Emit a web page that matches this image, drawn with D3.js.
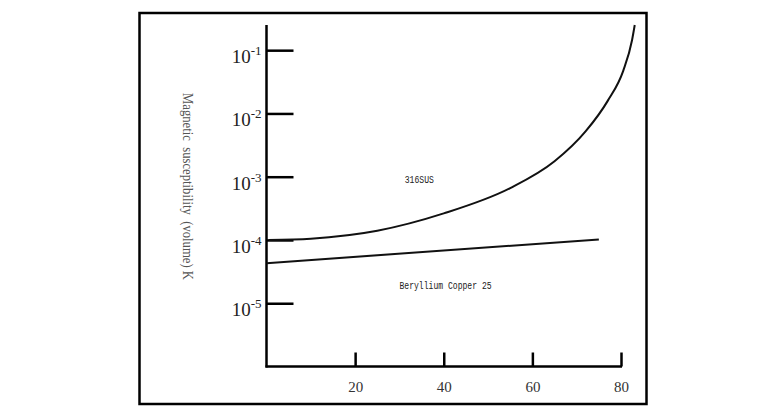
<!DOCTYPE html>
<html><head><meta charset="utf-8">
<script src="https://cdn.jsdelivr.net/npm/d3@7"></script>
<style>body{margin:0;background:#fff}</style>
</head><body>
<svg id="c" width="767" height="416"></svg>
<script>
const sus316X = [0.5, 10, 25, 40, 55, 65, 72, 77, 80.5, 82.5, 83.1];
const sus316Y = [1.0e-4, 1.05e-4, 1.40e-4, 2.63e-4, 6.6e-4, 1.75e-3, 5.19e-3, 1.58e-2, 4.72e-2, 0.145, 0.25];
const beCuX = [0, 75];
const beCuY = [4.3e-5, 1.02e-4];
const xTicks = [20, 40, 60, 80];
const yTicks = [1e-1, 1e-2, 1e-3, 1e-4, 1e-5];
const yTickExp = ["-1", "-2", "-3", "-4", "-5"];
const labels = [{t: "316SUS", x: 31.2, y: 8e-4}, {t: "Beryllium Copper 25", x: 30, y: 1.66e-5}];
const yTitle = "Magnetic  susceptibility  (volume) K";

const svg = d3.select("#c");
svg.append("rect").attr("x", 139.5).attr("y", 13).attr("width", 507).attr("height", 391)
  .attr("fill", "none").attr("stroke", "#000").attr("stroke-width", 2.5);

const x = d3.scaleLinear().domain([0, 80]).range([266.5, 621]);
const y = d3.scaleLog().domain([1e-6, 0.25]).range([366.5, 25]);

// axis lines
svg.append("line").attr("x1", x(0)).attr("x2", x(0)).attr("y1", y(0.25)).attr("y2", y(1e-6) + 1)
  .attr("stroke", "#000").attr("stroke-width", 2.5);
svg.append("line").attr("x1", x(0) - 1).attr("x2", x(80) + 1).attr("y1", y(1e-6)).attr("y2", y(1e-6))
  .attr("stroke", "#000").attr("stroke-width", 2.5);

// x axis
const gx = svg.append("g").attr("transform", `translate(0,${y(1e-6)})`)
  .call(d3.axisBottom(x).tickValues(xTicks).tickSizeInner(-14).tickSizeOuter(0).tickPadding(15).tickFormat(d3.format("d")));
gx.select(".domain").remove();
gx.selectAll("line").attr("stroke", "#000").attr("stroke-width", 2.5);
gx.selectAll("text").attr("font-family", "Liberation Serif").attr("font-size", 15).attr("fill", "#333");

// y axis
const gy = svg.append("g").attr("transform", `translate(${x(0)},0)`)
  .call(d3.axisRight(y).tickValues(yTicks).tickSize(27).tickFormat(""));
gy.select(".domain").remove();
gy.selectAll("line").attr("stroke", "#000").attr("stroke-width", 2.5);
yTicks.forEach((v, i) => {
  const t = svg.append("text").attr("x", x(0) - 5).attr("y", y(v) + 13)
    .attr("font-family", "Liberation Serif").attr("font-size", 19).attr("fill", "#222")
    .attr("text-anchor", "end");
  t.append("tspan").text("10");
  t.append("tspan").attr("font-size", 13).attr("dy", -8).text(yTickExp[i]);
});

// y title
svg.append("text").attr("transform", `translate(183,93) rotate(90)`)
  .attr("font-family", "Liberation Serif").attr("font-size", 14).attr("fill", "#555")
  .attr("textLength", 187).attr("lengthAdjust", "spacingAndGlyphs")
  .attr("xml:space", "preserve").style("white-space", "pre")
  .text(yTitle);

// curves
const line = d3.line().x(d => x(d[0])).y(d => y(d[1])).curve(d3.curveMonotoneX);
svg.append("path").datum(sus316X.map((v, i) => [v, sus316Y[i]]))
  .attr("d", line).attr("fill", "none").attr("stroke", "#111").attr("stroke-width", 2);
svg.append("path").datum(beCuX.map((v, i) => [v, beCuY[i]]))
  .attr("d", line).attr("fill", "none").attr("stroke", "#111").attr("stroke-width", 2);

labels.forEach(l => {
  svg.append("text").attr("x", x(l.x)).attr("y", y(l.y))
    .attr("font-family", "Liberation Mono").attr("font-size", 10).attr("fill", "#222")
    .attr("textLength", l.t.length * 4.85).attr("lengthAdjust", "spacingAndGlyphs")
    .text(l.t);
});
</script>
</body></html>
